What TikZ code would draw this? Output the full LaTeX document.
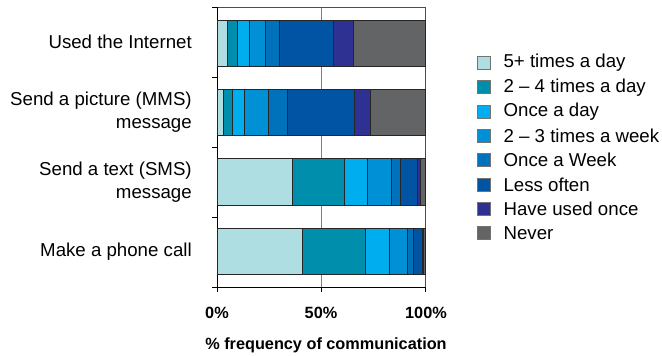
\documentclass[tikz,border=0pt]{standalone}
\usepackage{fontspec}
\setmainfont{Liberation Sans}
\usetikzlibrary{positioning}
\definecolor{fiveplus}{HTML}{AEDDE2}
\definecolor{twofour}{HTML}{008EAD}
\definecolor{oncday}{HTML}{00AEEF}
\definecolor{twothree}{HTML}{0090D6}
\definecolor{oncweek}{HTML}{0072BC}
\definecolor{lessoft}{HTML}{0054A3}
\definecolor{usedonce}{HTML}{2E3191}
\definecolor{never}{HTML}{636466}
\begin{document}
\begin{tikzpicture}[x=0.75pt,y=-0.75pt,font=\fontsize{14}{17.5}\selectfont]
  \tikzset{ seg/.style={draw=black!85,line width=0.6pt},
    legbox/.style={draw=black!55,line width=0.5pt,minimum size=9.75pt,inner sep=0pt},
    cat/.style={anchor=east,align=right,inner sep=0pt},
    lab/.style={anchor=west,inner sep=0pt},
    pct/.style={font=\fontsize{12.2}{14}\selectfont\bfseries,inner sep=0pt},
  }
  \useasboundingbox (0,0) rectangle (662,355);
  % grid and frame
  \draw[gray,line width=0.75pt] (321,7) -- (321,287);
  \draw[black!70,line width=0.75pt] (217,7) -- (425,7) -- (425,292);
  \draw[black,line width=0.75pt] (217,7) -- (217,292);
  \draw[black,line width=0.75pt] (212,287) -- (425,287);
  \foreach \y in {7,77,147,217,287} \draw[line width=0.75pt] (212,\y) -- (217,\y);
  \foreach \x in {217,321,425} \draw[line width=0.75pt] (\x,287) -- (\x,292);
  % the bars
  \begin{scope}[shift={(217,0)},x=1.56pt]
    \foreach \b/\c [remember=\b as \a (initially 0)] in
      {4.9/fiveplus,9.7/twofour,15.8/oncday,23.1/twothree,29.9/oncweek,55.9/lessoft,65.5/usedonce,100/never}
      \draw[seg,fill=\c] (\a,20) rectangle (\b,66);
    \foreach \b/\c [remember=\b as \a (initially 0)] in
      {2.9/fiveplus,7.2/twofour,13/oncday,24.9/twothree,33.8/oncweek,66/lessoft,73.6/usedonce,100/never}
      \draw[seg,fill=\c] (\a,89) rectangle (\b,135);
    \foreach \b/\c [remember=\b as \a (initially 0)] in
      {36.1/fiveplus,61.1/twofour,72.1/oncday,83.7/twothree,88/oncweek,96.5/lessoft,97.6/usedonce,100/never}
      \draw[seg,fill=\c] (\a,158) rectangle (\b,205);
    \foreach \b/\c [remember=\b as \a (initially 0)] in
      {41.1/fiveplus,71.5/twofour,82.7/oncday,91.7/twothree,94.4/oncweek,98.9/lessoft,99.2/usedonce,100/never}
      \draw[seg,fill=\c] (\a,228) rectangle (\b,274);
  \end{scope}
  % the categories
  \node[cat] (internet) at (192,42) {Used the Internet};
  \node[cat] (mms) at (192,112) {Send a picture (MMS)\\message};
  \node[cat] (sms) at (192,182) {Send a text (SMS)\\message};
  \node[cat] (call) at (192,252) {Make a phone call};
  % the axis
  \node[pct] (p0) at (217,313) {0\%};
  \node[pct] (p50) at (321,313) {50\%};
  \node[pct] (p100) at (426,313) {100\%};
  \node[pct] (title) at (326,345) {\% frequency of communication};
  % the legend
  \foreach \c/\t [count=\i] in {fiveplus/5+ times a day,twofour/2 -- 4 times a day,oncday/Once a day,
      twothree/2 -- 3 times a week,oncweek/Once a Week,lessoft/Less often,usedonce/Have used once,never/Never} {
    \node[legbox,fill=\c] (key\i) at (483.5,{63+24.3*(\i-1)}) {};
    \node[lab,right=9.75pt of key\i] (txt\i) {\t};
  }
\end{tikzpicture}
\end{document}
